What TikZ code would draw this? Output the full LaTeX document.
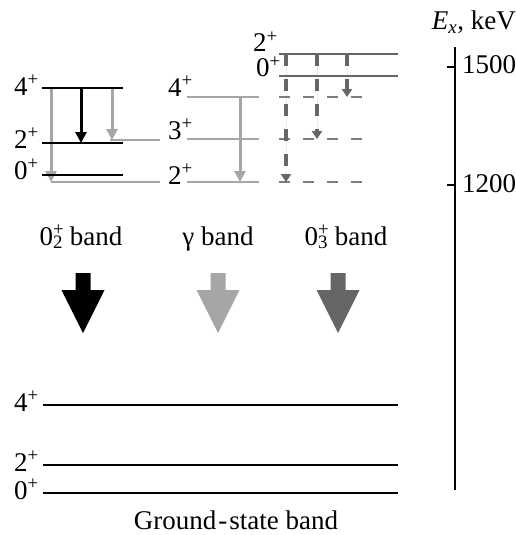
\documentclass[tikz,border=0pt]{standalone}
\usepackage{fontspec}
\setmainfont{Liberation Serif}
\usetikzlibrary{arrows.meta}
\definecolor{BandGamma}{HTML}{A6A6A6}
\definecolor{BandThird}{HTML}{666666}
\newcommand{\spinp}[1]{#1\textsuperscript{+}}
\newcommand{\bandhead}[1]{0\makebox[0pt][l]{\textsuperscript{+}}\textsubscript{#1}}
\tikzset{
  level/.style={line width=2pt,draw=black},
  gammalevel/.style={line width=2pt,draw=BandGamma},
  thirdlevel/.style={line width=2pt,draw=BandThird},
  ghostlevel/.style={line width=1.8pt,draw=BandThird!85,dash pattern=on 11pt off 13pt},
  trans/.style={-{Triangle[width=11pt,length=11pt]},line width=3pt},
  thirdtrans/.style={-{Triangle[width=10pt,length=8pt]},line width=3.5pt,
    draw=BandThird,fill=BandThird,dash pattern=on 12pt off 13pt},
  spin/.style={anchor=base east,inner sep=0pt},
  tick/.style={anchor=base west,inner sep=0pt},
  bandname/.style={anchor=base,inner sep=0pt}
}
\begin{document}
\begin{tikzpicture}[x=1pt,y=-1pt,font=\fontsize{27}{32}\selectfont]
  \useasboundingbox (0,0) rectangle (516,535);
  % 0_2^+ band
  \coordinate (b4) at (42,88);
  \coordinate (b2) at (42,143);
  \coordinate (b0) at (42,175);
  \coordinate (b4r) at (123,88);
  \coordinate (b2r) at (123,143);
  \coordinate (b0r) at (123,175);
  % gamma levels reached from the left
  \coordinate (gx3) at (110,140);
  \coordinate (gx3r) at (160,140);
  \coordinate (gx2) at (51,182);
  \coordinate (gx2r) at (160,182);
  \draw[gammalevel] (gx3) -- (gx3r);
  \draw[gammalevel] (gx2) -- (gx2r);
  \draw[trans,draw=BandGamma,fill=BandGamma] (51,88) -- (gx2);
  \draw[trans,draw=BandGamma,fill=BandGamma] (112,88) -- (112,140);
  \draw[level] (b4) -- (b4r);
  \draw[level] (b2) -- (b2r);
  \draw[level] (b0) -- (b0r);
  \draw[trans] (81,88) -- (81,143);
  \node[spin] (l4) at (39,95) {\spinp{4}};
  \node[spin] (l2) at (39,148) {\spinp{2}};
  \node[spin] (l0) at (39,179) {\spinp{0}};
  % gamma band
  \coordinate (g4) at (187,97);
  \coordinate (g3) at (187,139);
  \coordinate (g2) at (187,182);
  \draw[gammalevel] (g4) -- (259,97);
  \draw[gammalevel] (g3) -- (259,139);
  \draw[gammalevel] (g2) -- (259,182);
  \draw[trans,draw=BandGamma,fill=BandGamma] (240,97) -- (240,182);
  \node[spin] (m4) at (193,96) {\spinp{4}};
  \node[spin] (m3) at (193,139) {\spinp{3}};
  \node[spin] (m2) at (193,184) {\spinp{2}};
  % 0_3^+ band
  \coordinate (t2) at (279,54);
  \coordinate (t0) at (279,76);
  \draw[thirdlevel] (t2) -- (398,54);
  \draw[thirdlevel] (t0) -- (398,76);
  \foreach \yy in {97,139,182}
    \draw[ghostlevel] (279,\yy) -- (363,\yy);
  \draw[thirdtrans] (286,54) -- (286,182);
  \draw[thirdtrans] (317,54) -- (317,139);
  \draw[thirdtrans] (347,54) -- (347,97);
  \node[spin] (n2) at (278,52) {\spinp{2}};
  \node[spin] (n0) at (281,77) {\spinp{0}};
  % band names and big arrows
  \node[bandname] (name2) at (81,245) {\bandhead{2} band};
  \node[bandname] (namegamma) at (218,245) {γ band};
  \node[bandname] (name3) at (346,245) {\bandhead{3} band};
  \foreach \ax/\col in {83/black,218/BandGamma,338/BandThird}
    \fill[\col] ({\ax-7.5},273) -- ({\ax+7.5},273) -- ({\ax+7.5},290) -- ({\ax+21.5},290)
      -- (\ax,333) -- ({\ax-21.5},290) -- ({\ax-7.5},290) -- cycle;
  % ground-state band
  \draw[level] (43,405) -- (398,405);
  \draw[level] (43,465) -- (398,465);
  \draw[level] (43,493) -- (398,493);
  \node[spin] (s4) at (39,411) {\spinp{4}};
  \node[spin] (s2) at (39,471) {\spinp{2}};
  \node[spin] (s0) at (39,499) {\spinp{0}};
  \node[bandname] (gsb) at (236,529) {Ground\kern2pt-\kern2pt state band};
  % energy axis
  \coordinate (axtop) at (455,47);
  \coordinate (axbot) at (455,490);
  \draw[line width=1.5pt] (axtop) -- (axbot);
  \draw[line width=1.5pt] (447,67) -- (455,67);
  \draw[line width=1.5pt] (447,185) -- (455,185);
  \node[tick] (e1500) at (462,74) {1500};
  \node[tick] (e1200) at (462,192) {1200};
  \node[anchor=base east,inner sep=0pt] (unit) at (516,30) {{\itshape E}\textsubscript{\itshape x}, keV};
\end{tikzpicture}
\end{document}
